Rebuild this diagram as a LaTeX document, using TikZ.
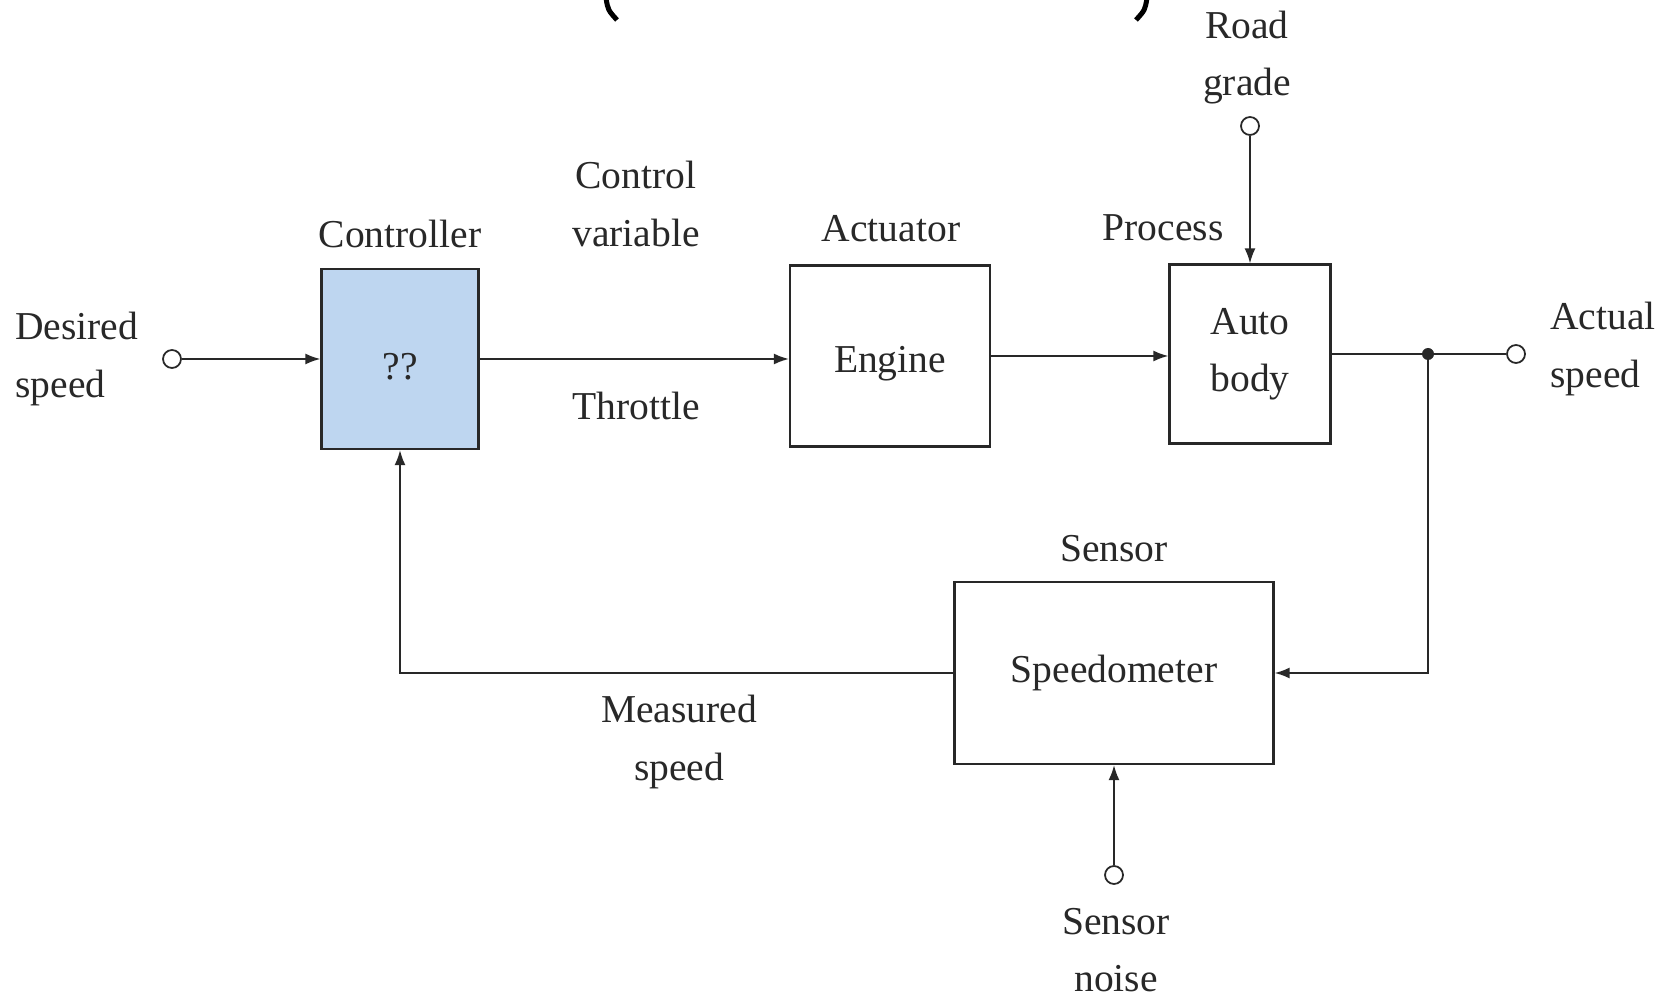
\documentclass[tikz,border=0pt]{standalone}
\usepackage{fontspec}
\setmainfont{Liberation Serif}
\usetikzlibrary{arrows.meta}
\definecolor{ink}{RGB}{40,40,40}
\definecolor{ctrlfill}{RGB}{190,214,240}
\begin{document}
\begin{tikzpicture}[x=0.02cm,y=-0.02cm,
  every node/.style={text=ink, font=\fontsize{22.5}{32.5}\selectfont},
  blockbox/.style={draw=ink, line width=1.3pt, inner sep=0pt, align=center},
  lbl/.style={align=center, inner sep=0pt},
  wire/.style={draw=ink, line width=1pt},
  arr/.style={wire, -{Latex[length=3mm,width=2.2mm]}},
  term/.style={circle, draw=ink, line width=1pt, fill=white, minimum size=0.36cm, inner sep=0pt},
  dotn/.style={circle, fill=ink, minimum size=0.24cm, inner sep=0pt}]
\useasboundingbox (0,0) rectangle (1668,1003);
\fill[white] (0,0) rectangle (1668,1003);

% blocks
\node[blockbox, fill=ctrlfill, minimum width=3.14cm, minimum height=3.6cm, text height=0.85cm] (ctrl) at (400,359) {??};
\node[blockbox, minimum width=4cm, minimum height=3.62cm, text height=0.65cm, text depth=0pt] (eng) at (890,356) {Engine};
\node[blockbox, minimum width=3.22cm, minimum height=3.58cm] (auto) at (1250,354) {Auto\\body};
\node[blockbox, minimum width=6.38cm, minimum height=3.64cm] (spd) at (1114,673) {Speedometer};

% terminals
\node[term] (ds) at (172,359) {};
\node[dotn] (jn) at (1428,354) {};
\node[term] (as) at (1516,354) {};
\node[term] (rg) at (1250,126) {};
\node[term] (sn) at (1114,875) {};

% connectors
\draw[arr] (ds) -- (ctrl);
\draw[arr] (ctrl.east) -- (eng.west |- ctrl.east);
\draw[arr] (eng.east) -- (auto.west |- eng.east);
\draw[wire] (auto.east) -- (jn.center) -- (as);
\draw[arr] (jn.center) |- (spd.east);
\draw[arr] (spd.west) -| (ctrl.south);
\draw[arr] (rg) -- (auto.north);
\draw[arr] (sn) -- (spd.south);

% labels
\node[lbl, align=left, anchor=west] (lds) at (15,359) {Desired\\speed};
\node[lbl] (lctrl) at (400,234) {Controller};
\node[lbl] (lcv) at (636,204) {Control\\variable};
\node[lbl] (lthr) at (636,406) {Throttle};
\node[lbl] (lact) at (891,229) {Actuator};
\node[lbl] (lproc) at (1163,228) {Process};
\node[lbl] (lrg) at (1247,58) {Road\\grade};
\node[lbl, align=left, anchor=west] (las) at (1550,349) {Actual\\speed};
\node[lbl] (lsen) at (1114,549) {Sensor};
\node[lbl] (lms) at (679,742) {Measured\\speed};
\node[lbl] (lsn) at (1116,950) {Sensor\\noise};

% cut-off title glyphs at the top edge
\draw[line width=0.1cm, black] (606,-2) .. controls (608,10) .. (617,20);
\draw[line width=0.1cm, black] (1147,-2) .. controls (1145,10) .. (1136,20);
\end{tikzpicture}
\end{document}
